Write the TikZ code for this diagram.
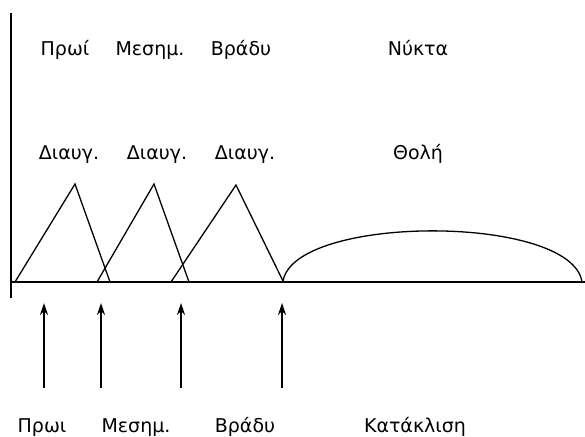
\documentclass[tikz,border=0pt]{standalone}
\usepackage{fontspec}
\setmainfont{DejaVu Sans}
\usetikzlibrary{arrows.meta}
\begin{document}
\begin{tikzpicture}[x=1pt,y=-1pt,
  lbl/.style={inner sep=0pt,anchor=base,font=\fontsize{19}{22}\selectfont},
  curve/.style={line width=1.3pt,line join=miter},
  uparrow/.style={line width=1.3pt,-{Stealth[length=12pt,width=8pt]}}]
\useasboundingbox[fill=white] (0,0) rectangle (585,436);
% axes
\coordinate (ytop) at (11,13);
\coordinate (ybot) at (11,298);
\coordinate (xl) at (11,282);
\coordinate (xr) at (585,282);
\draw[line width=1.5pt] (ytop) -- (ybot);
\draw[line width=1.5pt] (xl) -- (xr);
% membership triangles
\coordinate (a1) at (15,282); \coordinate (p1) at (75,184); \coordinate (b1) at (110,282);
\coordinate (a2) at (97,282); \coordinate (p2) at (154,184); \coordinate (b2) at (189,282);
\coordinate (a3) at (171,282); \coordinate (p3) at (236,185); \coordinate (b3) at (283,281);
\draw[curve] (a1) -- (p1) -- (b1);
\draw[curve] (a2) -- (p2) -- (b2);
\draw[curve] (a3) -- (p3) -- (b3);
% night curve
\coordinate (c0) at (283,281);
\coordinate (c1) at (582,282);
\draw[curve] (c0) .. controls (295,214) and (572,214) .. (c1);
% top labels
\node[lbl] (t1) at (65,56) {Πρωί};
\node[lbl] (t2) at (150,56) {Μεσημ.};
\node[lbl] (t3) at (241,56) {Βράδυ};
\node[lbl] (t4) at (418,56) {Νύκτα};
\node[lbl] (d1) at (69,159) {Διαυγ.};
\node[lbl] (d2) at (157,159) {Διαυγ.};
\node[lbl] (d3) at (245,159) {Διαυγ.};
\node[lbl] (d4) at (418,159) {Θολή};
% arrows and bottom labels
\coordinate (s1) at (44,388); \coordinate (e1) at (44,303);
\coordinate (s2) at (101,388); \coordinate (e2) at (101,303);
\coordinate (s3) at (181,388); \coordinate (e3) at (181,303);
\coordinate (s4) at (282,388); \coordinate (e4) at (282,303);
\draw[uparrow] (s1) -- (e1);
\draw[uparrow] (s2) -- (e2);
\draw[uparrow] (s3) -- (e3);
\draw[uparrow] (s4) -- (e4);
\node[lbl] (l1) at (42,432) {Πρωι};
\node[lbl] (l2) at (136,432) {Μεσημ.};
\node[lbl] (l3) at (245,432) {Βράδυ};
\node[lbl] (l4) at (415,432) {Κατάκλιση};
\end{tikzpicture}
\end{document}
